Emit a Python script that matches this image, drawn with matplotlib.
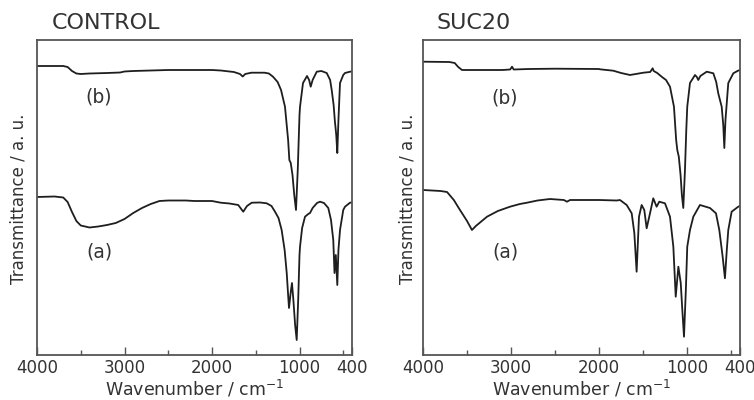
import matplotlib
matplotlib.use("Agg")
import matplotlib.pyplot as plt
from matplotlib.ticker import FixedLocator

# ---------------- data (transmittance, arbitrary units) ----------------
ctrl_b_w = [4000, 3700, 3650, 3600, 3550, 3500, 3400, 3200, 3050, 3000, 2900, 2500, 2000, 1900,
            1750, 1680, 1649, 1620, 1550, 1400, 1350, 1303, 1250, 1211, 1166, 1130, 1116, 1100,
            1080, 1060, 1040, 1020, 1000, 994, 960, 914, 890, 872, 850, 803, 750, 689, 650, 632,
            610, 594, 590, 580, 568, 555, 537, 500, 480, 423, 400]
ctrl_b_t = [289, 289, 288, 284, 281.5, 281, 281.5, 282, 282.5, 283.5, 284, 285, 285, 284.5,
            283, 281, 278.5, 281, 282.3, 282.3, 281.5, 278.3, 273, 265, 248.3, 215, 195, 192,
            180, 160, 145, 185, 240, 248.3, 272, 279, 275, 268.3, 275, 283.3, 284, 282, 275, 265,
            250, 232, 229, 220, 202, 235, 272, 280, 282, 283.3, 283.5]

ctrl_a_w = [4000, 3800, 3700, 3650, 3600, 3550, 3500, 3400, 3300, 3200, 3100, 3000, 2900, 2800,
            2700, 2600, 2500, 2300, 2200, 2000, 1900, 1800, 1700, 1643, 1600, 1546, 1450, 1375,
            1320, 1280, 1240, 1204, 1170, 1146, 1130, 1120, 1100, 1086, 1070, 1050, 1032, 1015,
            1000, 994, 970, 937, 900, 880, 850, 800, 766, 720, 671, 640, 614, 600, 585, 568,
            555, 537, 500, 480, 423, 400]
ctrl_a_t = [158, 158.5, 157.5, 153, 143, 134, 129.5, 127.5, 128.5, 130, 132, 136, 142, 147,
            151, 154, 154.5, 154.5, 154, 154, 152.3, 151.5, 150, 143.3, 149, 152.3, 152.5, 151.7,
            149, 143.3, 137, 125, 105, 82, 60, 47, 63, 72, 55, 30, 15, 55,
            100, 108.3, 127, 138.3, 141, 142, 147, 152, 153.3, 152, 147, 135, 115, 82, 100, 70,
            105, 125, 145, 148.3, 152.3, 152.5]

suc_b_w = [4000, 3700, 3640, 3600, 3557, 3500, 3300, 3100, 3010, 2989, 2970, 2800, 2500, 2000,
           1990, 1839, 1750, 1649, 1550, 1498, 1420, 1392, 1380, 1340, 1290, 1240, 1195, 1150,
           1125, 1112, 1095, 1075, 1060, 1044, 1025, 1010, 999, 968, 911, 890, 874, 850, 778,
           703, 670, 647, 608, 590, 578, 565, 533, 476, 423, 400]
suc_b_t = [293.3, 293, 292, 288, 285, 285, 285, 285, 285.5, 288.3, 285.5, 286, 286.3, 286,
           285.7, 284.3, 282, 280, 281.5, 282.3, 283, 286.7, 284, 282, 278.3, 275, 268.3, 248.3,
           215, 205, 198.3, 180, 160, 147, 185, 225, 248.3, 272, 280, 278, 275, 279, 283.3,
           281.7, 273, 261.7, 248.3, 230, 207, 235, 272, 281.7, 284.3, 285]

suc_a_w = [4000, 3800, 3727, 3650, 3580, 3500, 3444, 3400, 3273, 3150, 3012, 2900, 2819, 2700,
           2558, 2400, 2365, 2330, 2000, 1800, 1763, 1687, 1630, 1600, 1574, 1547, 1517, 1487,
           1460, 1422, 1385, 1347, 1317, 1252, 1195, 1157, 1130, 1100, 1073, 1055, 1036, 1015,
           999, 968, 930, 855, 741, 673, 635, 597, 571, 550, 533, 495, 420, 400]
suc_a_t = [165, 164, 163, 155, 145, 134, 125, 129, 138.3, 144, 148.3, 151, 152.3, 154.5,
           156, 155, 153.3, 155, 155, 154.5, 155, 150, 141.7, 122, 83.3, 138.3, 150, 145,
           126.7, 141.7, 156.7, 148.3, 153.3, 151.7, 138.3, 108.3, 58.3, 88.3, 72, 45, 18.3, 65,
           108.3, 125, 138.3, 150, 147, 141.7, 125, 98.3, 76.7, 105, 125, 143.3, 148.3, 149]

panel_titles = ["CONTROL", "SUC20"]
major_ticks = [4000, 3000, 2000, 1000, 400]
minor_ticks = [3500, 2500, 1500, 500]
label_b_pos = [(3291, 258), (3069, 257)]
label_a_pos = [(3291, 103), (3069, 103)]

# ---------------- figure ----------------
TXT = "#333333"
fig = plt.figure(figsize=(7.54, 4.0), dpi=100)
axes = [fig.add_axes([37 / 754, 45 / 400, 315 / 754, 315 / 400]),
        fig.add_axes([423 / 754, 45 / 400, 317 / 754, 315 / 400])]

series = [((ctrl_a_w, ctrl_a_t), (ctrl_b_w, ctrl_b_t)),
          ((suc_a_w, suc_a_t), (suc_b_w, suc_b_t))]

for i, ax in enumerate(axes):
    (aw, at), (bw, bt) = series[i]
    ax.plot(aw, at, color="#1e1e1e", lw=1.3)
    ax.plot(bw, bt, color="#1e1e1e", lw=1.3)
    ax.set_xlim(4000, 400)
    ax.set_ylim(0, 315)
    ax.xaxis.set_major_locator(FixedLocator(major_ticks))
    ax.xaxis.set_minor_locator(FixedLocator(minor_ticks))
    ax.set_xticklabels([str(t) for t in major_ticks])
    ax.set_yticks([])
    ax.tick_params(axis="x", which="major", direction="in", length=6, width=1.0,
                   color="#555555", labelsize=12, labelcolor=TXT, pad=3)
    ax.tick_params(axis="x", which="minor", direction="in", length=3.5, width=1.0,
                   color="#555555")
    for sp in ax.spines.values():
        sp.set_color("#555555")
        sp.set_linewidth(1.3)
    ax.set_xlabel("Wavenumber / cm$^{-1}$", fontsize=12.5, color=TXT, labelpad=1)
    ax.text(*label_b_pos[i], "(b)", fontsize=13.5, color=TXT, ha="center", va="center")
    ax.text(*label_a_pos[i], "(a)", fontsize=13.5, color=TXT, ha="center", va="center")

fig.text(19 / 754, 1 - 199 / 400, "Transmittance / a. u.", rotation=90, fontsize=12,
         color=TXT, ha="center", va="center")
fig.text(407 / 754, 1 - 199 / 400, "Transmittance / a. u.", rotation=90, fontsize=12,
         color=TXT, ha="center", va="center")
fig.text(52 / 754, 1 - 23 / 400, panel_titles[0], fontsize=16, color=TXT, ha="left", va="center")
fig.text(437 / 754, 1 - 23 / 400, panel_titles[1], fontsize=16, color=TXT, ha="left", va="center")

fig.savefig("out.png", dpi=100)
